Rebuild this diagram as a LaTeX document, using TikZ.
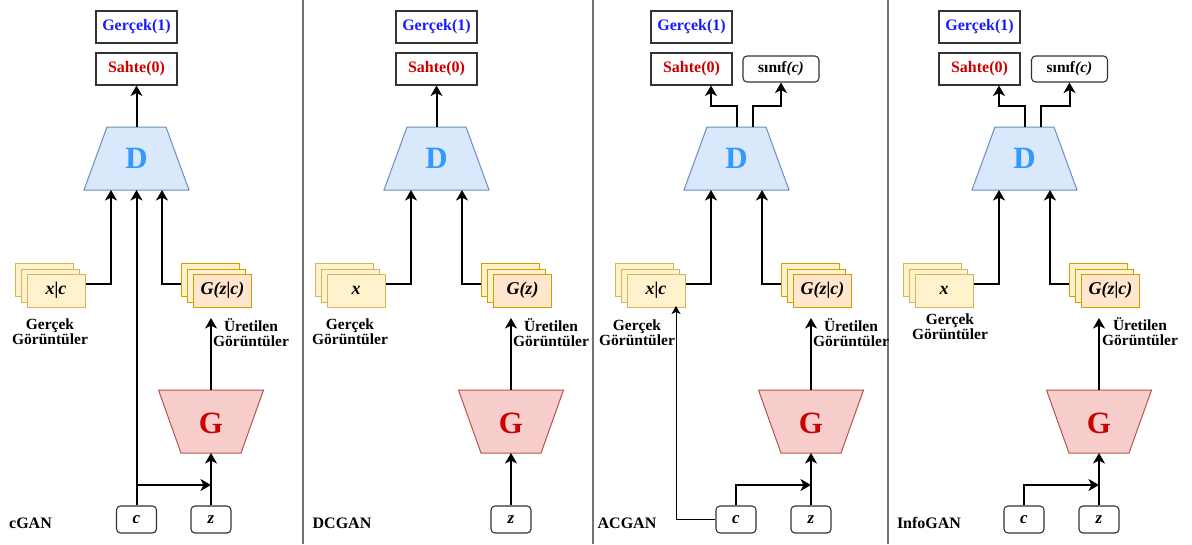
\documentclass[tikz,border=0pt]{standalone}
\usepackage{fontspec}
\setmainfont{Liberation Serif}
\usetikzlibrary{arrows.meta}

\definecolor{realblue}{HTML}{1A1AFF}
\definecolor{fakered}{HTML}{CC0000}
\definecolor{dlbl}{HTML}{3399FF}
\definecolor{dfill}{HTML}{DAE8FC}
\definecolor{ddraw}{HTML}{6C8EBF}
\definecolor{gfill}{HTML}{F8CECC}
\definecolor{gdraw}{HTML}{B85450}
\definecolor{yfill}{HTML}{FFF2CC}
\definecolor{ydraw}{HTML}{D6B656}
\definecolor{ofill}{HTML}{FFE6CC}
\definecolor{odraw}{HTML}{D79B00}

% discriminator trapezoid: name, centre x
\newcommand\DiscNet[2]{%
  \draw[discshape] (#2-29.5,127) -- (#2+29.5,127) -- (#2+52.5,190) -- (#2-52.5,190) -- cycle;
  \node[netlbl,text=dlbl] (#1) at (#2,158) {D};
  \coordinate (#1t) at (#2,127);
  \coordinate (#1b) at (#2,190);}
% generator trapezoid: name, centre x
\newcommand\GenNet[2]{%
  \draw[genshape] (#2-52.5,390) -- (#2+52.5,390) -- (#2+30,453) -- (#2-30,453) -- cycle;
  \node[netlbl,text=fakered] (#1) at (#2,423) {G};
  \coordinate (#1t) at (#2,390);
  \coordinate (#1b) at (#2,453);}
% stack of three images: name, front centre x, back fill, back draw, front fill, front draw, text
\newcommand\ImgStack[7]{%
  \draw[fill=#3,draw=#4,line width=1pt] (#2-41,263.5) rectangle ++(58,33);
  \draw[fill=#3,draw=#4,line width=1pt] (#2-35,269) rectangle ++(58,33);
  \node[stackfront,fill=#5,draw=#6] (#1) at (#2,290.5) {#7};}

\begin{document}
\begin{tikzpicture}[x=1pt,y=-1pt,
  every node/.style={inner sep=0pt},
  arr/.style={line width=2pt,-{Stealth[length=10.5pt,width=12pt,inset=3pt]}},
  thinarr/.style={line width=1pt,-{Stealth[length=8pt,width=9pt,inset=2pt]}},
  outbox/.style={draw=black!80,line width=1.1pt,minimum width=81pt,minimum height=32pt,
    font=\fontsize{16}{16}\selectfont\bfseries},
  classbox/.style={draw=black!80,line width=1.1pt,rounded corners=4pt,minimum width=76pt,
    minimum height=26pt,font=\fontsize{15.5}{15.5}\selectfont\bfseries},
  inbox/.style={draw=black!80,line width=1.1pt,rounded corners=4pt,minimum width=40pt,
    minimum height=27pt,font=\fontsize{17}{17}\selectfont\bfseries\itshape},
  discshape/.style={fill=dfill,draw=ddraw,line width=1pt},
  genshape/.style={fill=gfill,draw=gdraw,line width=1pt},
  netlbl/.style={font=\fontsize{31}{31}\selectfont\bfseries},
  stackfront/.style={line width=1pt,minimum width=58pt,minimum height=33pt,
    font=\fontsize{18}{18}\selectfont\bfseries\itshape},
  caption/.style={align=center,font=\fontsize{15.5}{15}\selectfont\bfseries},
  panelname/.style={font=\fontsize{16}{16}\selectfont\bfseries},
  divider/.style={draw=black!55,line width=1.5pt}]

\fill[white] (0,0) rectangle (1192,544);
\useasboundingbox (0,0) rectangle (1192,544);

% panel dividers
\draw[divider] (303,0) -- (303,544);
\draw[divider] (593,0) -- (593,544);
\draw[divider] (888,0) -- (888,544);

% ---------------- cGAN ----------------
\node[outbox,text=realblue] (R1) at (136.5,27) {Gerçek(1)};
\node[outbox,text=fakered] (S1) at (136.5,69) {Sahte(0)};
\DiscNet{D1}{136.5}
\GenNet{G1}{211}
\ImgStack{X1}{56}{yfill}{ydraw}{yfill}{ydraw}{x|c}
\ImgStack{F1}{222.5}{yfill}{odraw}{ofill}{odraw}{G(z|c)}
\node[caption] (RL1) at (50,332) {Gerçek\\Görüntüler};
\node[caption] (FL1) at (251,333) {Üretilen\\Görüntüler};
\node[inbox] (C1) at (136.5,519.5) {c};
\node[inbox] (Z1) at (211,519.5) {z};
\node[panelname] (N1) at (30.5,523) {cGAN};
\coordinate (U1) at (211,318);
\coordinate (J1) at (136.5,485);
\draw[arr] (D1t) -- (S1.south);
\draw[arr] ([yshift=6.5pt]X1.east) -| ([xshift=-25.5pt]D1b);
\draw[arr] ([xshift=-12pt,yshift=6.5pt]F1.west) -| ([xshift=25.5pt]D1b);
\draw[arr] (C1.north) -- (D1b);
\draw[arr] (J1) -- (Z1.north |- J1);
\draw[arr] (Z1.north) -- (G1b);
\draw[arr] (G1t) -- (U1);

% ---------------- DCGAN ----------------
\node[outbox,text=realblue] (R2) at (436.5,27) {Gerçek(1)};
\node[outbox,text=fakered] (S2) at (436.5,69) {Sahte(0)};
\DiscNet{D2}{436.5}
\GenNet{G2}{511}
\ImgStack{X2}{356}{yfill}{ydraw}{yfill}{ydraw}{x}
\ImgStack{F2}{522.5}{yfill}{odraw}{ofill}{odraw}{G(z)}
\node[caption] (RL2) at (350,332) {Gerçek\\Görüntüler};
\node[caption] (FL2) at (551,333) {Üretilen\\Görüntüler};
\node[inbox] (Z2) at (511,519.5) {z};
\node[panelname] (N2) at (342,523) {DCGAN};
\coordinate (U2) at (511,318);
\draw[arr] (D2t) -- (S2.south);
\draw[arr] ([yshift=6.5pt]X2.east) -| ([xshift=-25.5pt]D2b);
\draw[arr] ([xshift=-12pt,yshift=6.5pt]F2.west) -| ([xshift=25.5pt]D2b);
\draw[arr] (Z2.north) -- (G2b);
\draw[arr] (G2t) -- (U2);

% ---------------- ACGAN ----------------
\node[outbox,text=realblue] (R3) at (691.5,27) {Gerçek(1)};
\node[outbox,text=fakered] (S3) at (691.5,69) {Sahte(0)};
\node[classbox] (K3) at (781,69) {sınıf\textit{(c)}};
\DiscNet{D3}{736.5}
\GenNet{G3}{811}
\ImgStack{X3}{656}{yfill}{ydraw}{yfill}{ydraw}{x|c}
\ImgStack{F3}{822.5}{yfill}{odraw}{ofill}{odraw}{G(z|c)}
\node[caption] (RL3) at (637,333) {Gerçek\\Görüntüler};
\node[caption] (FL3) at (851,333) {Üretilen\\Görüntüler};
\node[inbox] (C3) at (736,519.5) {c};
\node[inbox] (Z3) at (811,519.5) {z};
\node[panelname] (N3) at (627,523) {ACGAN};
\coordinate (U3) at (811,318);
\coordinate (J3) at (736,485);
\coordinate (T3) at (676,306);
\draw[arr] (D3t) -- ++(0,-21) -| ([xshift=19.5pt]S3.south);
\draw[arr] ([xshift=16.5pt]D3t) -- ++(0,-21) -| (K3.south);
\draw[arr] ([yshift=6.5pt]X3.east) -| ([xshift=-25.5pt]D3b);
\draw[arr] ([xshift=-12pt,yshift=6.5pt]F3.west) -| ([xshift=25.5pt]D3b);
\draw[arr] (C3.north) |- (Z3.north |- J3);
\draw[thinarr] (C3.west) -| (T3);
\draw[arr] (Z3.north) -- (G3b);
\draw[arr] (G3t) -- (U3);

% ---------------- InfoGAN ----------------
\node[outbox,text=realblue] (R4) at (979.5,27) {Gerçek(1)};
\node[outbox,text=fakered] (S4) at (979.5,69) {Sahte(0)};
\node[classbox] (K4) at (1069.5,69) {sınıf\textit{(c)}};
\DiscNet{D4}{1024.5}
\GenNet{G4}{1099}
\ImgStack{X4}{944}{yfill}{ydraw}{yfill}{ydraw}{x}
\ImgStack{F4}{1110.5}{yfill}{odraw}{ofill}{odraw}{G(z|c)}
\node[caption] (RL4) at (950,326.5) {Gerçek\\Görüntüler};
\node[caption] (FL4) at (1140,332) {Üretilen\\Görüntüler};
\node[inbox] (C4) at (1024,519.5) {c};
\node[inbox] (Z4) at (1099,519.5) {z};
\node[panelname] (N4) at (929,523) {InfoGAN};
\coordinate (U4) at (1099,318);
\coordinate (J4) at (1024,485);
\draw[arr] (D4t) -- ++(0,-21) -| ([xshift=19.5pt]S4.south);
\draw[arr] ([xshift=16.5pt]D4t) -- ++(0,-21) -| (K4.south);
\draw[arr] ([yshift=6.5pt]X4.east) -| ([xshift=-25.5pt]D4b);
\draw[arr] ([xshift=-12pt,yshift=6.5pt]F4.west) -| ([xshift=25.5pt]D4b);
\draw[arr] (C4.north) |- (Z4.north |- J4);
\draw[arr] (Z4.north) -- (G4b);
\draw[arr] (G4t) -- (U4);
\end{tikzpicture}
\end{document}
